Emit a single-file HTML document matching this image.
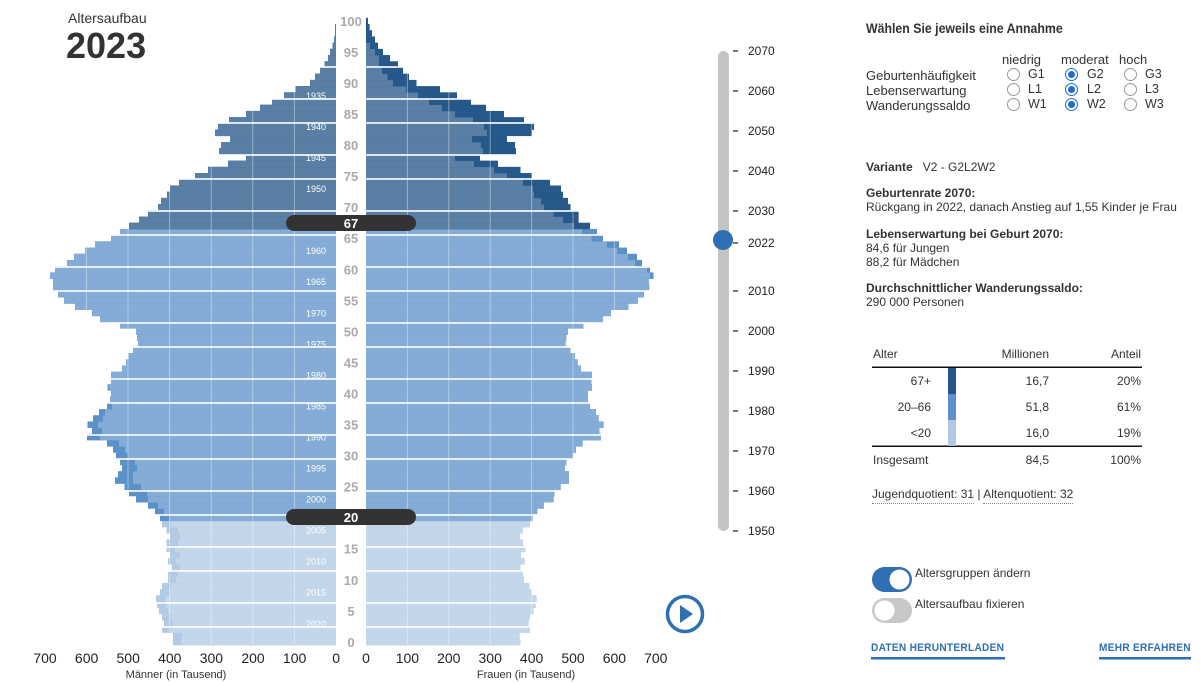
<!DOCTYPE html>
<html><head><meta charset="utf-8">
<style>
body{margin:0;width:1201px;height:683px;background:#fff;font-family:"Liberation Sans",sans-serif;color:#333;overflow:hidden;position:relative}
.t{position:absolute;white-space:nowrap}
.r{position:absolute;width:11px;height:11px;border:1px solid #999;border-radius:50%;background:#fff}
.r.on{border-color:#1a6fd0}
.r.on:after{content:"";position:absolute;left:2px;top:2px;width:7px;height:7px;border-radius:50%;background:#1a6fd0}
</style></head><body>
<svg id="s" width="1201" height="683" style="position:absolute;left:0;top:0" xmlns="http://www.w3.org/2000/svg"></svg>
<div class="t" style="left:68px;top:10px;font-size:14px">Altersaufbau</div>
<div class="t" style="left:66px;top:25px;font-size:36px;font-weight:bold">2023</div>

<div class="t" style="left:866px;top:20px;font-size:14px;font-weight:bold;transform:scaleX(0.88);transform-origin:0 0">Wählen Sie jeweils eine Annahme</div>
<div class="t" style="left:1002px;top:52px;font-size:13px">niedrig</div>
<div class="t" style="left:1061px;top:52px;font-size:13px">moderat</div>
<div class="t" style="left:1119px;top:52px;font-size:13px">hoch</div>
<div class="t" style="left:866px;top:68px;font-size:13px;line-height:15px">Geburtenhäufigkeit<br>Lebenserwartung<br>Wanderungssaldo</div>
<div class="r" style="left:1007px;top:68px"></div><div class="t" style="left:1028px;top:67px;font-size:12.5px">G1</div>
<div class="r on" style="left:1065px;top:68px"></div><div class="t" style="left:1087px;top:67px;font-size:12.5px">G2</div>
<div class="r" style="left:1124px;top:68px"></div><div class="t" style="left:1145px;top:67px;font-size:12.5px">G3</div>
<div class="r" style="left:1007px;top:83px"></div><div class="t" style="left:1028px;top:82px;font-size:12.5px">L1</div>
<div class="r on" style="left:1065px;top:83px"></div><div class="t" style="left:1087px;top:82px;font-size:12.5px">L2</div>
<div class="r" style="left:1124px;top:83px"></div><div class="t" style="left:1145px;top:82px;font-size:12.5px">L3</div>
<div class="r" style="left:1007px;top:98px"></div><div class="t" style="left:1028px;top:97px;font-size:12.5px">W1</div>
<div class="r on" style="left:1065px;top:98px"></div><div class="t" style="left:1087px;top:97px;font-size:12.5px">W2</div>
<div class="r" style="left:1124px;top:98px"></div><div class="t" style="left:1145px;top:97px;font-size:12.5px">W3</div>

<div class="t" style="left:866px;top:160px;font-size:12px"><b>Variante</b>&nbsp;&nbsp; V2 - G2L2W2</div>
<div class="t" style="left:866px;top:186px;font-size:12px;line-height:14px"><b>Geburtenrate 2070:</b><br>Rückgang in 2022, danach Anstieg auf 1,55 Kinder je Frau</div>
<div class="t" style="left:866px;top:227px;font-size:12px;line-height:14px"><b>Lebenserwartung bei Geburt 2070:</b><br>84,6 für Jungen<br>88,2 für Mädchen</div>
<div class="t" style="left:866px;top:281px;font-size:12px;line-height:14px"><b>Durchschnittlicher Wanderungssaldo:</b><br>290 000 Personen</div>

<div class="t" style="left:873px;top:347px;font-size:12px">Alter</div>
<div class="t" style="right:152px;top:347px;font-size:12px">Millionen</div>
<div class="t" style="right:60px;top:347px;font-size:12px">Anteil</div>
<div class="t" style="right:270px;top:374px;font-size:12px">67+</div>
<div class="t" style="right:270px;top:400px;font-size:12px">20–66</div>
<div class="t" style="right:270px;top:426px;font-size:12px">&lt;20</div>
<div class="t" style="right:152px;top:374px;font-size:12px">16,7</div>
<div class="t" style="right:152px;top:400px;font-size:12px">51,8</div>
<div class="t" style="right:152px;top:426px;font-size:12px">16,0</div>
<div class="t" style="right:60px;top:374px;font-size:12px">20%</div>
<div class="t" style="right:60px;top:400px;font-size:12px">61%</div>
<div class="t" style="right:60px;top:426px;font-size:12px">19%</div>
<div class="t" style="left:873px;top:453px;font-size:12px">Insgesamt</div>
<div class="t" style="right:152px;top:453px;font-size:12px">84,5</div>
<div class="t" style="right:60px;top:453px;font-size:12px">100%</div>
<div class="t" style="left:872px;top:487px;font-size:12px"><span style="border-bottom:1px dotted #888;padding-bottom:2px">Jugendquotient: 31</span> | <span style="border-bottom:1px dotted #888;padding-bottom:2px">Altenquotient: 32</span></div>

<div class="t" style="left:915px;top:566px;font-size:12px">Altersgruppen ändern</div>
<div class="t" style="left:915px;top:597px;font-size:12px">Altersaufbau fixieren</div>
<div class="t" style="left:871px;top:642px;font-size:11px;font-weight:bold;color:#2f6fb3;letter-spacing:0.3px;transform:scaleX(0.92);transform-origin:0 0">DATEN HERUNTERLADEN</div>
<div class="t" style="left:1099px;top:642px;font-size:11px;font-weight:bold;color:#2f6fb3;letter-spacing:0.3px;transform:scaleX(0.92);transform-origin:0 0">MEHR ERFAHREN</div>

<script>
const s=document.getElementById('s');const NS='http://www.w3.org/2000/svg';
function el(t,a,txt){const e=document.createElementNS(NS,t);for(const k in a)e.setAttribute(k,a[k]);if(txt!=null)e.textContent=txt;s.appendChild(e);return e;}
const Lx={0:[173,181],1:[173,182],2:[162,170.5],3:[164,173],4:[162,170.5],5:[159,168],6:[157,166],7:[156,165],8:[160,169],9:[162,171],10:[168,176],11:[168,178],12:[172,180],13:[168,176],14:[170,180],15:[166.5,175],16:[166.5,178],17:[170,180],18:[166.5,178],19:[162,171],20:[160,169],21:[155,164],22:[148,158],23:[136,148],24:[129,147],25:[124.5,141],26:[115,133],27:[118,133],28:[122,137],29:[120,135],30:[116,128],31:[113,125],32:[107,119],33:[87,100],34:[92,102],35:[87.5,98],36:[93,103],37:[99,105],38:[107,112],39:[110,110],40:[111,111],41:[107.6,109],42:[111,111],43:[111,111],44:[122,122],45:[126,126],46:[128.6,128.6],47:[133,133],48:[138,138]};
const Lo=[137,136,120,100,92,75,64,58,53,53,50,55,67,74,85,95,111,120,129,139,148,158,161,167,170,179,195,208,228,246,219,221,230,215,218,229,246,260,272,284,295.5,310,315,320,324.5,328,330,332.5,334,335,335,336];
for(let i=0;i<Lo.length;i++){const a=49+i;Lx[a]=[Lo[i],Lo[i]];}
const Rm=[520.5,519.6,530,528.6,530,533.5,535.7,536.6,531.7,529.5,524,523,520.5,524.6,521,525.4,523,520,523,530,532.6,537.5,543.8,553.6,554.5,560.7,569,569,565,566.5,573,576,582.6,601,599.5,603.6,598.7,596,590,588,588,592,591.5,592,581,577.7,575,570.5,565.6];
const Rx={};for(let a=0;a<Rm.length;a++)Rx[a]=[Rm[a],Rm[a]];
const Ro={49:[566.5,566.5],50:[568,568],51:[583.5,583.5],52:[603,603],53:[611,611],54:[628.5,628.5],55:[638,638],56:[644,644],57:[649.5,649.5],58:[649,649],59:[650,653.5],60:[647,650],61:[635,642],62:[628,637],63:[617,627],64:[607,619],65:[591.5,603],66:[582,597],67:[574,590],68:[563,578.6],69:[553.5,578.6],70:[544,570.5],71:[541,568],72:[534,563],73:[533,561],74:[523,550],75:[507,532],76:[494,520.5],77:[474,498],78:[455,480],79:[483,516],80:[481,515],81:[472,507],82:[487,532],83:[484,534],84:[473,524],85:[455,504],86:[442,486],87:[429,471],88:[418,457],89:[406,440],90:[393,416.5],91:[387.5,409],92:[382,403],93:[379,398],94:[379,390],95:[375,383],96:[370,378],97:[366,375],98:[366,372],99:[366,369.6],100:[366,368]};
Object.assign(Rx,Ro);
const H=6.21;
for(let a=0;a<=100;a++){
 const y=645-(a+1)*H;
 let cb,ce;
 if(a>=67){cb='#5a7fa5';ce='#265889';}else if(a>=20){cb='#84acd6';ce='#5b90c9';}else{cb='#c3d6ea';ce='#b3cae4';}
 const l=Lx[a];
 if(l[0]<336) el('rect',{x:l[0],y:y,width:336-l[0],height:H+0.3,fill:ce});
 if(l[1]<336) el('rect',{x:l[1],y:y,width:336-l[1],height:H+0.3,fill:cb});
 const r=Rx[a];
 if(r[1]>366) el('rect',{x:366,y:y,width:r[1]-366,height:H+0.3,fill:ce});
 if(r[0]>366) el('rect',{x:366,y:y,width:r[0]-366,height:H+0.3,fill:cb});
}
for(let k=1;k<=7;k++){el('line',{x1:336-41.6*k,x2:336-41.6*k,y1:20,y2:645,stroke:'rgba(255,255,255,0.4)','stroke-width':1});
 el('line',{x1:366+41.4*k,x2:366+41.4*k,y1:20,y2:645,stroke:'rgba(255,255,255,0.4)','stroke-width':1});}
let hy=67;for(let i=0;i<21;i++){el('rect',{x:40,y:hy-0.8,width:620,height:1.6,fill:'#fff'});hy+=(i%2==0)?32:24;}
for(let yr=1935;yr<=2020;yr+=5){const a=2023-yr;const y=645-(a+0.5)*H;el('text',{x:316,y:y+3.5,'text-anchor':'middle','font-size':'9','fill':'#fff','font-family':'Liberation Sans'},yr);}
for(let a=0;a<=100;a+=5){const y=645-(a+0.5)*H;el('text',{x:351,y:y+5,'text-anchor':'middle','font-size':'13','font-weight':'bold','fill':'#aaa','font-family':'Liberation Sans'},a);}
[[223,'67'],[517,'20']].forEach(p=>{el('rect',{x:286,y:p[0]-8,width:130,height:16,rx:8,fill:'#333'});el('text',{x:351,y:p[0]+5,'text-anchor':'middle','font-size':'13','font-weight':'bold','fill':'#fff','font-family':'Liberation Sans'},p[1]);});
const lv=[700,600,500,400,300,200,100,0];
lv.forEach((v,i)=>{el('text',{x:45+i*41.6,y:663,'text-anchor':'middle','font-size':'14','fill':'#222','font-family':'Liberation Sans'},v);});
lv.slice().reverse().forEach((v,i)=>{el('text',{x:366+i*41.4,y:663,'text-anchor':'middle','font-size':'14','fill':'#222','font-family':'Liberation Sans'},v);});
el('text',{x:176,y:678,'text-anchor':'middle','font-size':'11','fill':'#333','font-family':'Liberation Sans'},'Männer (in Tausend)');
el('text',{x:526,y:678,'text-anchor':'middle','font-size':'11','fill':'#333','font-family':'Liberation Sans'},'Frauen (in Tausend)');
el('rect',{x:718,y:51,width:11,height:480,rx:5.5,fill:'#c4c4c4'});
[[2070,51],[2060,91],[2050,131],[2040,171],[2030,211],[2022,243],[2010,291],[2000,331],[1990,371],[1980,411],[1970,451],[1960,491],[1950,531]].forEach(t=>{
 el('line',{x1:733,x2:738,y1:t[1],y2:t[1],stroke:'#222','stroke-width':1.2});
 el('text',{x:748,y:t[1]+4,'font-size':'12','fill':'#222','font-family':'Liberation Sans'},t[0]);});
el('circle',{cx:723,cy:240,r:10,fill:'#2f6fb3'});
el('circle',{cx:685,cy:614,r:17.5,fill:'none',stroke:'#2f6fb3','stroke-width':3.5});
el('path',{d:'M680 605 L693 614 L680 623 Z',fill:'#2f6fb3'});
el('rect',{x:872,y:366.5,width:270,height:1.5,fill:'#111'});
el('rect',{x:872,y:445.5,width:270,height:1.5,fill:'#111'});
el('rect',{x:948,y:368,width:8,height:26,fill:'#24568a'});
el('rect',{x:948,y:394,width:8,height:26,fill:'#5b90c9'});
el('rect',{x:948,y:420,width:8,height:26,fill:'#b0c8e2'});
el('rect',{x:872,y:567,width:40,height:25,rx:12.5,fill:'#2f6fb3'});
el('circle',{cx:899.5,cy:579.5,r:10,fill:'#fff'});
el('rect',{x:872,y:598,width:40,height:25,rx:12.5,fill:'#c8c8c8'});
el('circle',{cx:884.5,cy:610.5,r:10,fill:'#fff'});
el('rect',{x:871,y:657,width:134,height:2.5,fill:'#2f6fb3'});
el('rect',{x:1099,y:657,width:92,height:2.5,fill:'#2f6fb3'});
</script>
</body></html>
